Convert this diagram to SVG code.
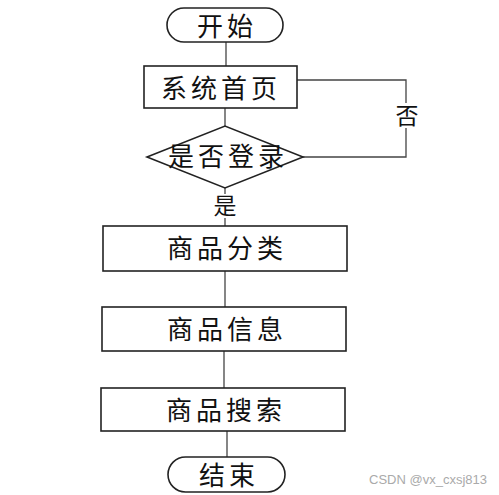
<svg xmlns="http://www.w3.org/2000/svg" width="499" height="495" viewBox="0 0 499 495">
<style>
.n{fill:#fff;stroke:#222;stroke-width:1.6}
.t{font-family:"Noto Sans CJK SC",sans-serif;font-size:26px;fill:#111;text-anchor:middle;dominant-baseline:central;letter-spacing:4px}
.l{fill:none;stroke:#444;stroke-width:1.3}
.lb{font-family:"Noto Sans CJK SC",sans-serif;font-size:23px;fill:#111;text-anchor:middle;dominant-baseline:central}
</style>
<rect width="499" height="495" fill="#fff"/>
<g id="connectors">
<line class="l" x1="226" y1="42" x2="226" y2="66"/>
<line class="l" x1="225" y1="108" x2="225" y2="126"/>
<line class="l" x1="225" y1="188" x2="225" y2="194"/>
<line class="l" x1="225" y1="218" x2="225" y2="226"/>
<polyline class="l" points="303,157 406,157 406,128"/>
<polyline class="l" points="406,103 406,80 297,80"/>
<line class="l" x1="225" y1="271" x2="225" y2="307"/>
<line class="l" x1="224" y1="351" x2="224" y2="388"/>
<line class="l" x1="227" y1="431" x2="227" y2="457"/>
<text class="lb" x="407" y="114">否</text>
<text class="lb" x="225" y="204">是</text>
</g>
<g id="start">
<rect class="n" x="167" y="8" width="116" height="34" rx="17"/>
<text class="t" x="227" y="24">开始</text>
</g>
<g id="home">
<rect class="n" x="144" y="66" width="153" height="42"/>
<text class="t" x="221" y="86">系统首页</text>
</g>
<g id="login">
<polygon class="n" points="147,157 225,126 303,157 225,188"/>
<text class="t" x="228" y="154">是否登录</text>
</g>
<g id="category">
<rect class="n" x="103" y="226" width="244" height="45"/>
<text class="t" x="227" y="246">商品分类</text>
</g>
<g id="info">
<rect class="n" x="102" y="307" width="244" height="44"/>
<text class="t" x="227" y="327">商品信息</text>
</g>
<g id="search">
<rect class="n" x="101" y="388" width="244" height="43"/>
<text class="t" x="226" y="408">商品搜索</text>
</g>
<g id="end">
<rect class="n" x="168" y="457" width="117" height="35" rx="17.5"/>
<text class="t" x="229" y="473">结束</text>
</g>
<text x="487" y="484" font-family="Liberation Sans,sans-serif" font-size="13" fill="#aaa" text-anchor="end">CSDN @vx_cxsj813</text>
</svg>
